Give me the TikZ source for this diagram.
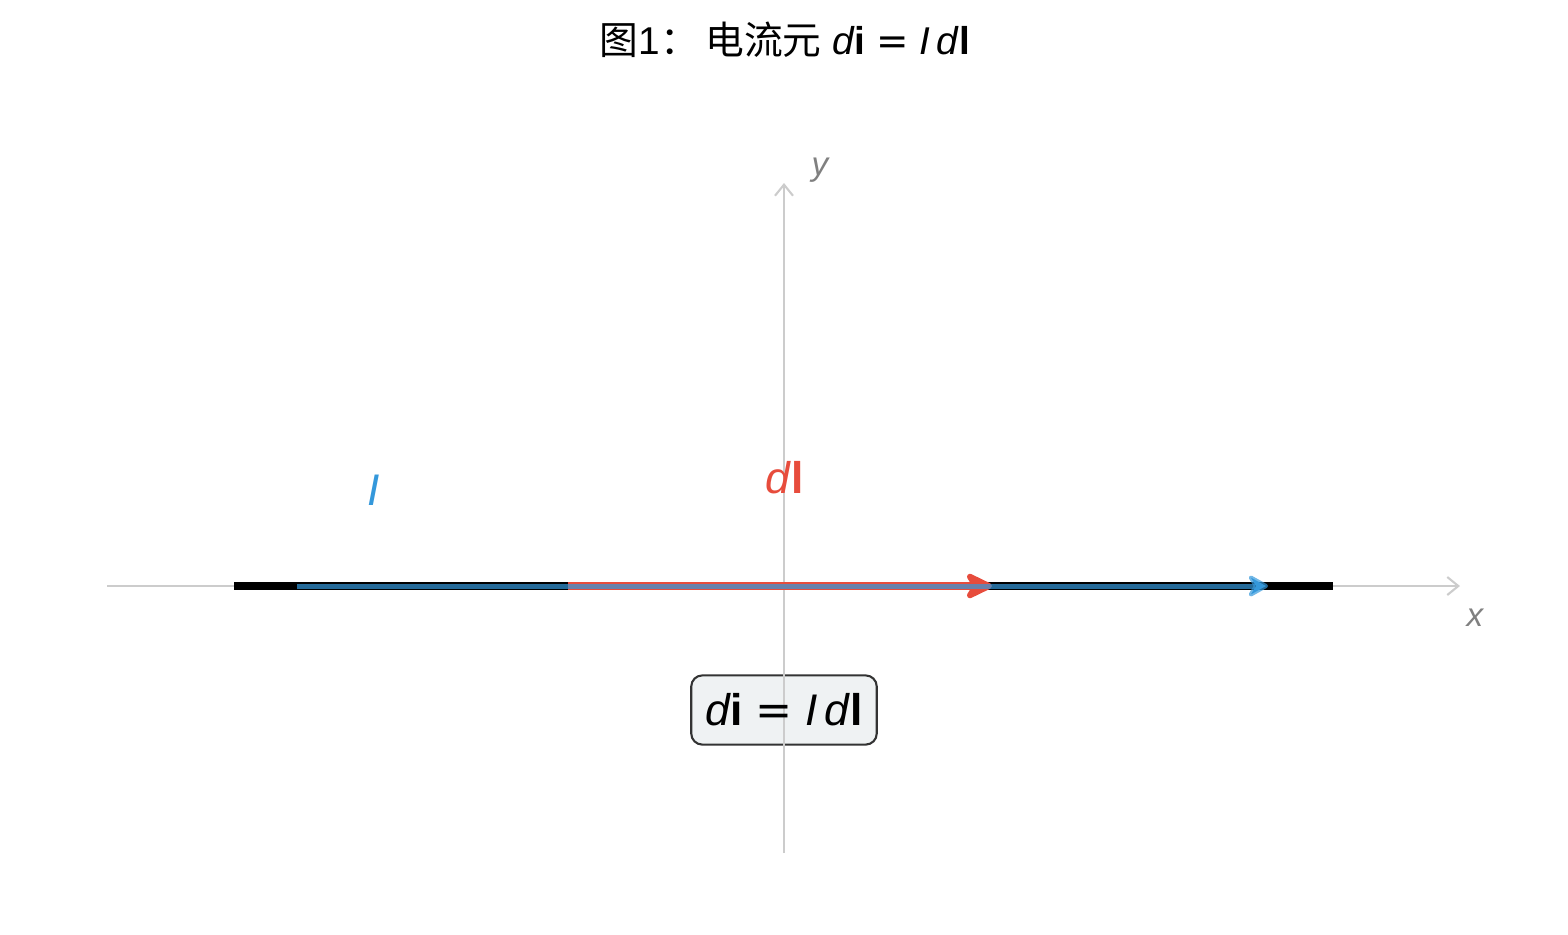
\documentclass[tikz,border=0pt]{standalone}
\usepackage{fontspec}
\setmainfont{Liberation Sans}
\newfontfamily\cjk{Noto Sans CJK SC}
\newfontfamily\symf{DejaVu Sans}
\usetikzlibrary{arrows.meta}
\definecolor{axisgray}{HTML}{CCCCCC}
\definecolor{labgray}{HTML}{808080}
\definecolor{myblue}{HTML}{3498DB}
\definecolor{myred}{HTML}{E74C3C}
\definecolor{boxfill}{HTML}{ECF0F1}
\definecolor{boxdraw}{HTML}{333333}
\newcommand{\mi}[1]{{\itshape #1}}
\newcommand{\formula}{\mi{d}\textbf{i}\;{\symf =}\;\mi{I}\,\mi{d}\textbf{l}}
\tikzset{
  axisline/.style={draw=axisgray, line width=0.75pt, -{Straight Barb[length=4pt,width=6.5pt,line width=0.75pt]}},
  axislab/.style={text=labgray, font=\fontsize{12}{14}\selectfont\itshape},
  wire/.style={draw=black, line width=2.9pt},
  bluearrow/.style={draw=myblue, draw opacity=0.7, line width=1.8pt, -{Stealth[length=9pt,width=10pt,inset=3pt,round]}},
  redarrow/.style={draw=myred, line width=2.8pt, -{Stealth[length=12pt,width=11.5pt,inset=3.5pt,round]}},
  formbox/.style={draw=boxdraw, fill=boxfill, fill opacity=0.85, text opacity=1, line width=0.75pt, rounded corners=4pt, minimum width=67pt, minimum height=25pt, inner sep=2pt, font=\fontsize{16}{19}\selectfont},
  biglab/.style={font=\fontsize{16}{19}\selectfont}
}
\begin{document}
\begin{tikzpicture}[x=0.0127cm, y=-0.0127cm]
\useasboundingbox (0,0) rectangle (1568,934);
% title
\node[font=\fontsize{14}{17}\selectfont] (title) at (785,40) {{\cjk 图}1{\cjk ：}\,{\cjk 电流元} \formula};
% axes
\coordinate (xs) at (107,586);
\coordinate (xe) at (1460,586);
\coordinate (ys) at (784,853);
\coordinate (ye) at (784,183);
\draw[axisline] (xs) -- (xe);
\draw[axisline] (ys) -- (ye);
\node[axislab] (xl) at (1475,618) {x};
\node[axislab] (yl) at (820,170) {y};
% wire
\coordinate (w1) at (234,586);
\coordinate (w2) at (1333,586);
\draw[wire] (w1) -- (w2);
% red element arrow (under the blue one)
\coordinate (r1) at (568,586);
\coordinate (r2) at (992,586);
\draw[redarrow] (r1) -- (r2);
% blue current arrow
\coordinate (b1) at (297,586);
\coordinate (b2) at (1268,586);
\draw[bluearrow] (b1) -- (b2);
% labels
\node[biglab, text=myblue] (Il) at (374,490) {\mi{I}};
\node[biglab, text=myred] (dl) at (785,478) {\mi{d}\textbf{l}};
% formula box
\node[formbox] (box) at (784,710) {\phantom{\formula}};
\draw[draw=axisgray, line width=0.75pt] (box.north) -- (box.south);
\node[font=\fontsize{16}{19}\selectfont] (boxtext) at (box.center) {\formula};
\end{tikzpicture}
\end{document}
